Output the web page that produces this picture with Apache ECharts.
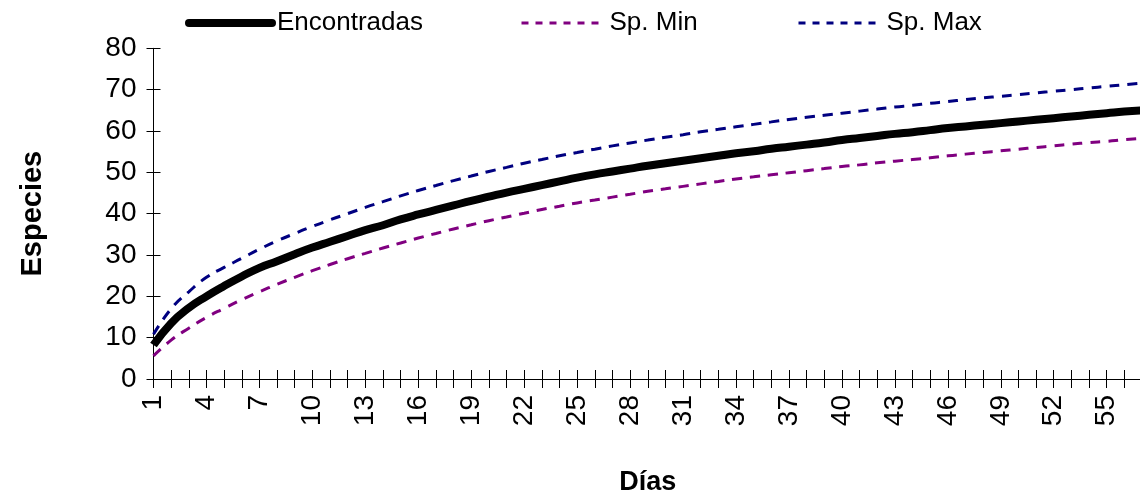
<!DOCTYPE html>
<html>
<head>
<meta charset="utf-8">
<script src="https://cdn.jsdelivr.net/npm/echarts@6/dist/echarts.min.js"></script>
<style>html,body{margin:0;padding:0;background:#fff}#c{width:1140px;height:497px}</style>
</head>
<body>
<div id="c"></div>
<script>
const dias = [];
for (let d = 1; d <= 57; d++) dias.push(String(d));
const encontradas = [8.2,13.5,17.2,20.0,22.5,24.8,26.9,28.5,30.2,31.8,33.2,34.6,36.0,37.2,38.6,39.8,40.9,42.0,43.1,44.1,45.1,46.0,46.9,47.8,48.7,49.5,50.2,50.9,51.6,52.2,52.8,53.4,54.0,54.6,55.1,55.7,56.2,56.7,57.2,57.8,58.3,58.8,59.3,59.7,60.2,60.7,61.1,61.5,61.9,62.3,62.7,63.1,63.5,63.9,64.3,64.7,65.0];
const spMax = [10.8,17.0,21.1,24.6,27.0,29.2,31.4,33.4,35.2,36.9,38.5,40.0,41.5,42.9,44.3,45.6,46.8,48.0,49.1,50.2,51.2,52.2,53.1,54.0,54.8,55.6,56.4,57.1,57.8,58.5,59.1,59.8,60.4,61.0,61.6,62.2,62.8,63.3,63.8,64.3,64.8,65.3,65.8,66.2,66.7,67.1,67.6,68.0,68.4,68.8,69.2,69.6,70.0,70.4,70.8,71.2,71.6];
const spMin = [5.6,9.4,12.3,14.9,17.1,19.2,21.1,22.9,24.6,26.2,27.7,29.1,30.4,31.7,32.9,34.1,35.2,36.3,37.3,38.3,39.2,40.1,41.0,41.8,42.6,43.3,44.0,44.7,45.4,46.0,46.6,47.2,47.8,48.4,48.9,49.4,49.9,50.4,50.9,51.4,51.8,52.3,52.7,53.1,53.5,54.0,54.4,54.8,55.2,55.6,56.0,56.4,56.8,57.2,57.5,57.9,58.2];
const seriesNames = ['Encontradas', 'Sp. Min', 'Sp. Max'];
const yTicks = {min: 0, max: 80, interval: 10};

const FONT = '"Liberation Sans", Arial, sans-serif';
const chart = echarts.init(document.getElementById('c'), null, {renderer: 'canvas'});
const legendBase = {
  top: 10, itemHeight: 26, itemGap: 0, itemWidth: 83, itemTextGap: 6,
  textStyle: {fontFamily: FONT, fontSize: 26, color: '#000', padding: [0,0,0,0]},
  itemStyle: {color: 'rgba(0,0,0,0)', borderColor: 'rgba(0,0,0,0)', borderWidth: 0},
  padding: 0
};
chart.setOption({
  animation: false,
  backgroundColor: '#fff',
  textStyle: {fontFamily: FONT},
  legend: [
    Object.assign({}, legendBase, {left: 185, data: [seriesNames[0]], lineStyle: {width: 8, cap: 'round'}}),
    Object.assign({}, legendBase, {left: 520, data: [seriesNames[1]], lineStyle: {width: 3, type: [7, 7]}}),
    Object.assign({}, legendBase, {left: 797, data: [seriesNames[2]], lineStyle: {width: 3, type: [7, 7]}})
  ],
  grid: {left: 153.5, top: 48.3, bottom: 118, right: -2, containLabel: false, outerBoundsMode: 'none'},
  xAxis: [{
    type: 'category', data: dias, boundaryGap: false,
    name: 'Días', nameLocation: 'middle', nameGap: 90,
    nameTextStyle: {fontFamily: FONT, fontSize: 27, fontWeight: 'bold', color: '#000'},
    axisLine: {lineStyle: {color: '#000', width: 1}},
    axisTick: {interval: 0, length: 9, lineStyle: {color: '#000'}},
    axisLabel: {interval: 2, rotate: 90, margin: 16, fontFamily: FONT, fontSize: 28, color: '#000'},
    splitLine: {show: false}
  }, {
    type: 'category', data: dias, boundaryGap: false, position: 'bottom',
    axisLine: {show: false},
    axisTick: {interval: 0, inside: true, length: 9, lineStyle: {color: '#000'}},
    axisLabel: {show: false}, splitLine: {show: false}
  }],
  yAxis: [{
    type: 'value', min: yTicks.min, max: yTicks.max, interval: yTicks.interval, position: 'left',
    name: 'Especies', nameLocation: 'middle', nameGap: 106,
    nameTextStyle: {fontFamily: FONT, fontSize: 29, fontWeight: 'bold', color: '#000'},
    axisLine: {show: true, lineStyle: {color: '#000', width: 1}},
    axisTick: {show: true, length: 7, lineStyle: {color: '#000'}},
    axisLabel: {margin: 17, fontFamily: FONT, fontSize: 28, color: '#000'},
    splitLine: {show: false}
  }, {
    type: 'value', min: yTicks.min, max: yTicks.max, interval: yTicks.interval, position: 'left',
    axisLine: {show: false},
    axisTick: {show: true, inside: true, length: 7, lineStyle: {color: '#000'}},
    axisLabel: {show: false}, splitLine: {show: false}
  }],
  series: [
    {name: seriesNames[0], type: 'line', data: encontradas, symbol: 'none', smooth: true,
     color: '#000', lineStyle: {color: '#000', width: 8}, z: 3},
    {name: seriesNames[1], type: 'line', data: spMin, symbol: 'none', smooth: true,
     color: '#800080', lineStyle: {color: '#800080', width: 3, type: [10, 8]}},
    {name: seriesNames[2], type: 'line', data: spMax, symbol: 'none', smooth: true,
     color: '#000080', lineStyle: {color: '#000080', width: 3, type: [10, 8]}}
  ]
});
</script>
</body>
</html>
